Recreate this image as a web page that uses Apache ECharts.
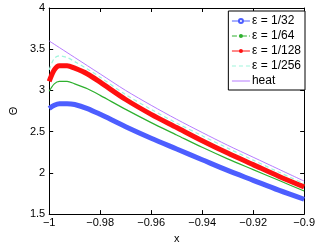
<!DOCTYPE html>
<html><head><meta charset="utf-8">
<script src="https://cdn.jsdelivr.net/npm/echarts@6/dist/echarts.min.js"></script>
<style>html,body{margin:0;padding:0;background:#fff}#c{width:318px;height:249px}</style>
</head><body><div id="c"></div>
<script>
var xs      = [-1, -0.998, -0.996, -0.993, -0.99, -0.985, -0.98, -0.97, -0.96, -0.95, -0.94, -0.93, -0.92, -0.91, -0.90];
var eps32   = [2.78, 2.82, 2.84, 2.84, 2.83, 2.78, 2.71, 2.56, 2.42, 2.29, 2.16, 2.03, 1.91, 1.79, 1.68];
var eps64   = [2.99, 3.08, 3.11, 3.11, 3.08, 3.02, 2.94, 2.77, 2.61, 2.46, 2.31, 2.17, 2.04, 1.91, 1.78];
var eps128  = [3.11, 3.25, 3.30, 3.30, 3.27, 3.20, 3.10, 2.89, 2.71, 2.55, 2.39, 2.24, 2.10, 1.96, 1.83];
var eps256  = [3.25, 3.39, 3.42, 3.40, 3.35, 3.26, 3.16, 2.95, 2.77, 2.605, 2.45, 2.30, 2.155, 2.01, 1.87];
var heat    = [3.60, 3.56, 3.52, 3.46, 3.40, 3.30, 3.20, 3.00, 2.82, 2.65, 2.49, 2.335, 2.19, 2.045, 1.90];
var names   = ['ε = 1/32', 'ε = 1/64', 'ε = 1/128', 'ε = 1/256', 'heat'];
var xTicks  = [-1, -0.98, -0.96, -0.94, -0.92, -0.9];
var xTickLabels = ['−1', '−0.98', '−0.96', '−0.94', '−0.92', '−0.9'];
var yTicks  = [1.5, 2, 2.5, 3, 3.5, 4];
var yTickLabels = ['1.5', '2', '2.5', '3', '3.5', '4'];

function pairs(ys){ return xs.map(function(x,i){ return [x, ys[i]]; }); }
function xlab(v){ for (var i=0;i<xTicks.length;i++){ if (Math.abs(xTicks[i]-v)<1e-6) return xTickLabels[i]; } return ''; }
function ylab(v){ for (var i=0;i<yTicks.length;i++){ if (Math.abs(yTicks[i]-v)<1e-6) return yTickLabels[i]; } return ''; }

var font = 'Liberation Sans, Arial, sans-serif';
var axisCommon = {
  axisLine: {show: true, lineStyle: {color: '#000', width: 1}},
  axisTick: {show: true, inside: true, length: 4, lineStyle: {color: '#000'}},
  splitLine: {show: false}
};
var legendLine = [
  {width: 1},
  {width: 1, type: [5, 2, 1, 2]},
  {width: 1},
  {width: 1.2, type: [4, 3]},
  {width: 1}
];
var legendItem = [{}, {}, {}, {opacity: 0}, {opacity: 0}];
var legendData = names.map(function(n, i){ return {name: n, lineStyle: legendLine[i], itemStyle: legendItem[i]}; });
var chart = echarts.init(document.getElementById('c'), null, {renderer: 'canvas'});
chart.setOption({
  animation: false,
  backgroundColor: '#fff',
  textStyle: {fontFamily: font},
  grid: {left: 38, right: 11, top: 8, bottom: 29, containLabel: false},
  legend: {
    right: 13, top: 11, orient: 'vertical',
    backgroundColor: '#fff', borderColor: '#000', borderWidth: 1,
    padding: [4, 4, 3, 3], itemGap: 3, itemWidth: 18, itemHeight: 5,
    textStyle: {fontFamily: font, fontSize: 12, color: '#000', padding: [0,0,0,-3]},
    lineStyle: {width: 1},
    data: legendData
  },
  xAxis: [
    Object.assign({type: 'value', min: -1, max: -0.9, interval: 0.02,
      name: 'x', nameLocation: 'middle', nameGap: 18,
      nameTextStyle: {fontFamily: font, fontSize: 11, color: '#000'},
      axisLabel: {formatter: xlab, color: '#000', fontSize: 11, fontFamily: font, margin: 3}}, axisCommon),
    Object.assign({type: 'value', min: -1, max: -0.9, interval: 0.02, position: 'top',
      axisLabel: {show: false}}, axisCommon)
  ],
  yAxis: [
    Object.assign({type: 'value', min: 1.5, max: 4, interval: 0.5,
      name: 'Θ', nameLocation: 'middle', nameGap: 26, nameRotate: 90,
      nameTextStyle: {fontFamily: font, fontSize: 11, color: '#000'},
      axisLabel: {formatter: ylab, color: '#000', fontSize: 11, fontFamily: font, margin: 4}}, axisCommon),
    Object.assign({type: 'value', min: 1.5, max: 4, interval: 0.5, position: 'right',
      axisLabel: {show: false}}, axisCommon)
  ],
  series: [
    {name: names[0], type: 'line', data: pairs(eps32), smooth: 0.3, symbol: 'emptyCircle', symbolSize: 5, showSymbol: false,
     lineStyle: {color: '#4d5eff', width: 5}, itemStyle: {color: '#4d5eff'}, z: 2},
    {name: names[1], type: 'line', data: pairs(eps64), smooth: 0.3, symbol: 'circle', symbolSize: 2, showSymbol: false,
     lineStyle: {color: '#2eb02e', width: 1.2}, itemStyle: {color: '#2eb02e'}, z: 3},
    {name: names[2], type: 'line', data: pairs(eps128), smooth: 0.3, symbol: 'circle', symbolSize: 4, showSymbol: false,
     lineStyle: {color: '#ff1010', width: 5}, itemStyle: {color: '#ff1010'}, z: 4},
    {name: names[3], type: 'line', data: pairs(eps256), smooth: 0.3, symbol: 'circle', showSymbol: false,
     lineStyle: {color: '#9ff5dc', width: 1.2, type: [4, 3]}, itemStyle: {color: '#9ff5dc'}, z: 5},
    {name: names[4], type: 'line', data: pairs(heat), smooth: 0.3, symbol: 'circle', showSymbol: false,
     lineStyle: {color: '#b77cff', width: 1}, itemStyle: {color: '#b77cff'}, z: 6}
  ]
});
</script></body></html>
